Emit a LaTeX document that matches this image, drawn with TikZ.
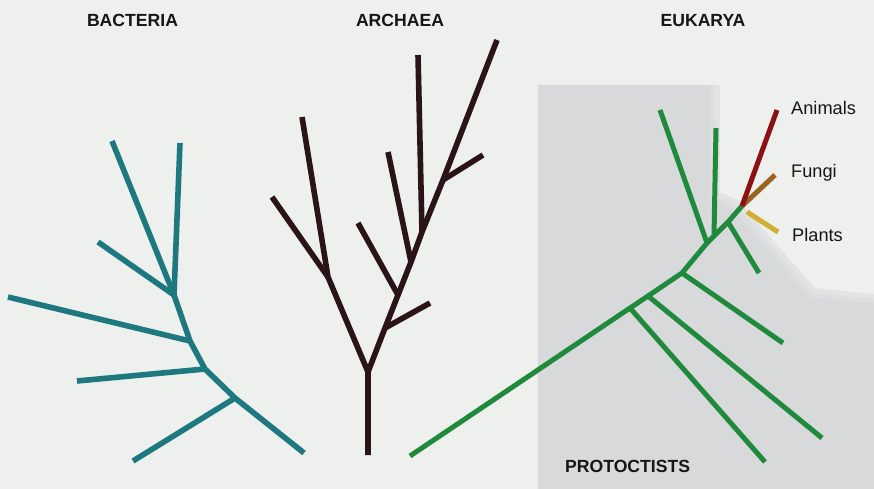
\documentclass[tikz,border=0pt]{standalone}
\usepackage{fontspec}
\setmainfont{Liberation Sans}
\definecolor{bgc}{HTML}{EDF0ED}
\definecolor{panelc}{HTML}{D8D9DB}
\definecolor{bactc}{HTML}{1E7880}
\definecolor{archc}{HTML}{2A1416}
\definecolor{eukc}{HTML}{1F8A3C}
\definecolor{animc}{HTML}{8A1212}
\definecolor{fungc}{HTML}{9A6420}
\definecolor{plantc}{HTML}{D2AE34}
\definecolor{txtc}{HTML}{161616}
\tikzset{
  bact/.style={draw=bactc,line width=5.6pt,line join=round},
  arch/.style={draw=archc,line width=5.6pt,line join=round},
  euk/.style={draw=eukc,line width=5pt,line join=round},
  title/.style={text=txtc,font=\bfseries\fontsize{17.6}{20}\selectfont,anchor=base,inner sep=0pt},
  lbl/.style={text=txtc,font=\fontsize{18.2}{20}\selectfont,anchor=base west,inner sep=0pt}
}
\begin{document}
\begin{tikzpicture}[x=1pt,y=-1pt]
\useasboundingbox (0,0) rectangle (874,489);
\fill[bgc] (0,0) rectangle (874,489);
% gray panel with a soft light region at top right
\fill[panelc] (538,85) rectangle (874,489);
\fill[bgc] (720,85) -- (874,85) -- (874,294) -- (815,288) -- (738,200) -- (720,192) -- cycle;
\draw[bgc,opacity=0.25,line width=20pt,line join=round] (720,70) -- (720,192) -- (738,200) -- (815,288) -- (880,294);
\draw[bgc,opacity=0.35,line width=10pt,line join=round] (720,70) -- (720,192) -- (738,200) -- (815,288) -- (880,294);

% ---------- Bacteria ----------
\coordinate (b0) at (304,453);
\coordinate (b1) at (235,398);
\coordinate (b1a) at (133,461);
\coordinate (b2) at (205,369);
\coordinate (b2a) at (77,381);
\coordinate (b3) at (190,341);
\coordinate (b3a) at (8,297);
\coordinate (b4) at (174,295);
\coordinate (b4a) at (98,242);
\coordinate (b4b) at (112,141);
\coordinate (b4c) at (180,143);
\draw[bact] (b0) -- (b1) -- (b2) -- (b3) -- (b4) -- (b4c);
\draw[bact] (b1) -- (b1a);
\draw[bact] (b2) -- (b2a);
\draw[bact] (b3) -- (b3a);
\draw[bact] (b4) -- (b4a);
\draw[bact] (b4) -- (b4b);

% ---------- Archaea ----------
\coordinate (a0) at (368,455);
\coordinate (a1) at (368,372);
\coordinate (a2) at (328,277);
\coordinate (a2a) at (272,197);
\coordinate (a2b) at (302,117);
\coordinate (a3) at (385,328);
\coordinate (a3a) at (430,303);
\coordinate (a4) at (398,295);
\coordinate (a4a) at (358,223);
\coordinate (a5) at (411,262);
\coordinate (a5a) at (388,152);
\coordinate (a6) at (422,232);
\coordinate (a6a) at (418,55);
\coordinate (a7) at (443,180);
\coordinate (a7a) at (483,155);
\coordinate (a8) at (497,40);
\draw[arch] (a0) -- (a1) -- (a2) -- (a2b);
\draw[arch] (a1) -- (a3) -- (a4) -- (a5) -- (a6) -- (a7) -- (a8);
\draw[arch] (a2) -- (a2a);
\draw[arch] (a3) -- (a3a);
\draw[arch] (a4) -- (a4a);
\draw[arch] (a5) -- (a5a);
\draw[arch] (a6) -- (a6a);
\draw[arch] (a7) -- (a7a);

% ---------- Eukarya ----------
\coordinate (e0) at (410,456);
\coordinate (e1) at (630,308);
\coordinate (e1a) at (765,462);
\coordinate (e2) at (648,296);
\coordinate (e2a) at (822,438);
\coordinate (e3) at (682,273);
\coordinate (e3a) at (783,343);
\coordinate (e4) at (707,243);
\coordinate (e4a) at (660,110);
\coordinate (e4v) at (714,236);
\coordinate (e4b) at (716,128);
\coordinate (e5) at (728,222);
\coordinate (e5a) at (759,273);
\coordinate (e6) at (742,206);
\coordinate (ea) at (777,110);
\coordinate (ef) at (775,175);
\coordinate (ep0) at (747,212);
\coordinate (ep) at (778,232);
\draw[euk] (e0) -- (e1) -- (e2) -- (e3) -- (e4) -- (e4v) -- (e5) -- (e6);
\draw[euk] (e1) -- (e1a);
\draw[euk] (e2) -- (e2a);
\draw[euk] (e3) -- (e3a);
\draw[euk] (e4) -- (e4a);
\draw[euk] (e4v) -- (e4b);
\draw[euk] (e5) -- (e5a);
\draw[euk,draw=plantc] (ep0) -- (ep);
\draw[euk,draw=fungc] (e6) -- (ef);
\draw[euk,draw=animc] (e6) -- (ea);

% ---------- Labels ----------
\node[title] (tb) at (132.5,26.7) {BACTERIA};
\node[title] (ta) at (400,26.7) {ARCHAEA};
\node[title] (te) at (703,26.7) {EUKARYA};
\node[title,anchor=base west] (tp) at (565,472) {PROTOCTISTS};
\node[lbl] (tan) at (791,115) {Animals};
\node[lbl] (tf) at (791,177) {Fungi};
\node[lbl] (tpl) at (792,241) {Plants};
\end{tikzpicture}
\end{document}
